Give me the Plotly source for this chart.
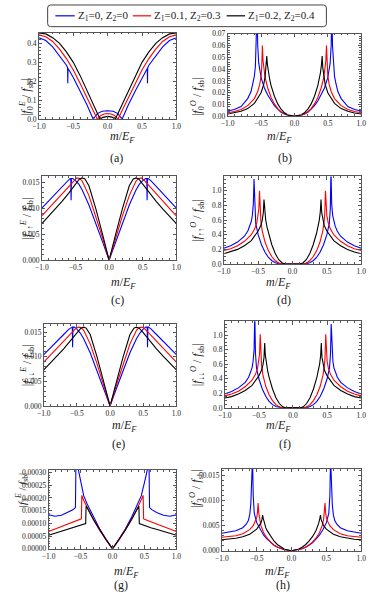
import plotly.graph_objects as go

W, H = 373, 605

NAMES = ["Z<sub>1</sub>=0, Z<sub>2</sub>=0",
         "Z<sub>1</sub>=0.1, Z<sub>2</sub>=0.3",
         "Z<sub>1</sub>=0.2, Z<sub>2</sub>=0.4"]
COLORS = ["#0000ff", "#ff0000", "#000000"]

# ---- panel (a): |f0^E / f_sb|
XB_A = [-1.0, -0.9, -0.8, -0.7, -0.6, -0.583, -0.58, -0.577, -0.55, -0.5, -0.4, -0.3, -0.21, -0.15, -0.08, 0.0,
        0.08, 0.15, 0.21, 0.3, 0.4, 0.5, 0.55, 0.577, 0.58, 0.583, 0.6, 0.7, 0.8, 0.9, 1.0]
A_B = [0.43, 0.415, 0.382, 0.335, 0.285, 0.272, 0.19, 0.268, 0.252, 0.22, 0.148, 0.075, 0.0, 0.03, 0.042, 0.045,
       0.042, 0.03, 0.0, 0.075, 0.148, 0.22, 0.252, 0.268, 0.19, 0.272, 0.285, 0.335, 0.382, 0.415, 0.43]
XR_A = [-1.0, -0.9, -0.8, -0.7, -0.6, -0.5, -0.4, -0.3, -0.2, -0.15, -0.1, -0.05, 0.0,
        0.05, 0.1, 0.15, 0.2, 0.3, 0.4, 0.5, 0.6, 0.7, 0.8, 0.9, 1.0]
A_R = [0.445, 0.435, 0.41, 0.37, 0.32, 0.26, 0.188, 0.112, 0.038, 0.0, 0.02, 0.028, 0.03,
       0.028, 0.02, 0.0, 0.038, 0.112, 0.188, 0.26, 0.32, 0.37, 0.41, 0.435, 0.445]
XK_A = [-1.0, -0.9, -0.8, -0.7, -0.6, -0.5, -0.4, -0.3, -0.2, -0.11, -0.07, -0.03, 0.0,
        0.03, 0.07, 0.11, 0.2, 0.3, 0.4, 0.5, 0.6, 0.7, 0.8, 0.9, 1.0]
A_K = [0.455, 0.45, 0.43, 0.4, 0.355, 0.3, 0.23, 0.15, 0.07, 0.0, 0.01, 0.014, 0.015,
       0.014, 0.01, 0.0, 0.07, 0.15, 0.23, 0.3, 0.355, 0.4, 0.43, 0.45, 0.455]

# ---- peaked panels (b, d, f, h) share these m grids
XB_PK = [-1.0, -0.9, -0.8, -0.7, -0.65, -0.62, -0.6, -0.585, -0.57, -0.56, -0.55, -0.535, -0.5, -0.45, -0.4,
         -0.35, -0.3, -0.25, -0.2, -0.15, -0.1, 0.0,
         0.1, 0.15, 0.2, 0.25, 0.3, 0.35, 0.4, 0.45, 0.5, 0.535, 0.55, 0.56, 0.57, 0.585, 0.6, 0.62, 0.65,
         0.7, 0.8, 0.9, 1.0]
XR_PK = [-1.0, -0.9, -0.8, -0.7, -0.6, -0.55, -0.52, -0.5, -0.49, -0.48, -0.47, -0.46, -0.44, -0.4, -0.35,
         -0.3, -0.25, -0.2, -0.15, -0.1, 0.0,
         0.1, 0.15, 0.2, 0.25, 0.3, 0.35, 0.4, 0.44, 0.46, 0.47, 0.48, 0.49, 0.5, 0.52, 0.55, 0.6, 0.7,
         0.8, 0.9, 1.0]
XK_PK = [-1.0, -0.9, -0.8, -0.7, -0.6, -0.5, -0.46, -0.44, -0.425, -0.415, -0.405, -0.39, -0.37, -0.35,
         -0.3, -0.25, -0.2, -0.15, -0.1, 0.0,
         0.1, 0.15, 0.2, 0.25, 0.3, 0.35, 0.37, 0.39, 0.405, 0.415, 0.425, 0.44, 0.46, 0.5, 0.6, 0.7, 0.8,
         0.9, 1.0]

# (b) |f0^O / f_sb|
B_B = [0.0045, 0.0058, 0.0082, 0.015, 0.021, 0.028, 0.034, 0.042, 0.06, 0.09, 0.06, 0.045, 0.033, 0.024,
       0.018, 0.013, 0.009, 0.006, 0.0035, 0.002, 0.0009, 0.0,
       0.0009, 0.002, 0.0035, 0.006, 0.009, 0.013, 0.018, 0.024, 0.033, 0.045, 0.06, 0.09, 0.06, 0.042,
       0.034, 0.028, 0.021, 0.015, 0.0082, 0.0058, 0.0045]
B_R = [0.003, 0.004, 0.0058, 0.009, 0.015, 0.021, 0.027, 0.034, 0.042, 0.06, 0.047, 0.04, 0.033, 0.024,
       0.016, 0.0105, 0.0065, 0.0038, 0.002, 0.0009, 0.0,
       0.0009, 0.002, 0.0038, 0.0065, 0.0105, 0.016, 0.024, 0.033, 0.04, 0.047, 0.06, 0.042, 0.034, 0.027,
       0.021, 0.015, 0.009, 0.0058, 0.004, 0.003]
B_K = [0.002, 0.0028, 0.0042, 0.0065, 0.011, 0.02, 0.027, 0.033, 0.041, 0.051, 0.044, 0.037, 0.031, 0.026,
       0.017, 0.0105, 0.006, 0.003, 0.0013, 0.0,
       0.0013, 0.003, 0.006, 0.0105, 0.017, 0.026, 0.031, 0.037, 0.044, 0.051, 0.041, 0.033, 0.027, 0.02,
       0.011, 0.0065, 0.0042, 0.0028, 0.002]

# (d) |f_upup^O / f_sb|
D_B = [0.215, 0.25, 0.3, 0.38, 0.45, 0.52, 0.58, 0.66, 0.82, 1.16, 0.75, 0.55, 0.4, 0.26, 0.16, 0.09,
       0.045, 0.018, 0.004, 0.0, 0.0, 0.0,
       0.0, 0.0, 0.004, 0.018, 0.045, 0.09, 0.16, 0.26, 0.4, 0.55, 0.75, 1.3, 0.82, 0.66, 0.58, 0.52,
       0.45, 0.38, 0.3, 0.25, 0.215]
D_R = [0.185, 0.21, 0.25, 0.31, 0.4, 0.48, 0.56, 0.66, 0.75, 1.0, 0.7, 0.58, 0.45, 0.3, 0.18, 0.1, 0.045,
       0.013, 0.001, 0.0, 0.0,
       0.0, 0.001, 0.013, 0.045, 0.1, 0.18, 0.3, 0.45, 0.58, 0.7, 1.0, 0.75, 0.66, 0.56, 0.48, 0.4, 0.31,
       0.25, 0.21, 0.185]
D_K = [0.14, 0.165, 0.2, 0.25, 0.32, 0.45, 0.53, 0.6, 0.7, 0.88, 0.72, 0.6, 0.5, 0.42, 0.26, 0.14, 0.06,
       0.015, 0.0, 0.0,
       0.0, 0.015, 0.06, 0.14, 0.26, 0.42, 0.5, 0.6, 0.72, 0.88, 0.7, 0.6, 0.53, 0.45, 0.32, 0.25, 0.2,
       0.165, 0.14]

# (f) |f_dndn^O / f_sb|
F_B = [0.19, 0.225, 0.275, 0.35, 0.42, 0.49, 0.55, 0.64, 0.8, 1.3, 0.75, 0.55, 0.4, 0.26, 0.16, 0.09,
       0.045, 0.018, 0.004, 0.0, 0.0, 0.0,
       0.0, 0.0, 0.004, 0.018, 0.045, 0.09, 0.16, 0.26, 0.4, 0.55, 0.75, 1.15, 0.8, 0.64, 0.55, 0.49,
       0.42, 0.35, 0.275, 0.225, 0.19]
F_R = [0.165, 0.19, 0.23, 0.29, 0.38, 0.46, 0.54, 0.64, 0.74, 1.01, 0.7, 0.58, 0.45, 0.3, 0.18, 0.1,
       0.045, 0.013, 0.001, 0.0, 0.0,
       0.0, 0.001, 0.013, 0.045, 0.1, 0.18, 0.3, 0.45, 0.58, 0.7, 1.01, 0.74, 0.64, 0.54, 0.46, 0.38,
       0.29, 0.23, 0.19, 0.165]
F_K = [0.135, 0.155, 0.19, 0.24, 0.31, 0.44, 0.52, 0.59, 0.69, 0.89, 0.72, 0.6, 0.5, 0.42, 0.26, 0.14,
       0.06, 0.015, 0.0, 0.0,
       0.0, 0.015, 0.06, 0.14, 0.26, 0.42, 0.5, 0.6, 0.72, 0.89, 0.69, 0.59, 0.52, 0.44, 0.31, 0.24,
       0.19, 0.155, 0.135]

# (h) |f3^O / f_sb|
H_B = [0.0035, 0.0037, 0.004, 0.0046, 0.0053, 0.006, 0.0072, 0.0092, 0.013, 0.0185, 0.011, 0.0075,
       0.0056, 0.0042, 0.0031, 0.0023, 0.0016, 0.0011, 0.0007, 0.0004, 0.0002, 0.0,
       0.0002, 0.0004, 0.0007, 0.0011, 0.0016, 0.0023, 0.0031, 0.0042, 0.0056, 0.0075, 0.011, 0.0185,
       0.013, 0.0092, 0.0072, 0.006, 0.0053, 0.0046, 0.004, 0.0037, 0.0035]
H_R = [0.0027, 0.0028, 0.003, 0.0034, 0.0042, 0.005, 0.0058, 0.0066, 0.0075, 0.0095, 0.0075, 0.0062,
       0.005, 0.0036, 0.0025, 0.0017, 0.0011, 0.0007, 0.0004, 0.0002, 0.0,
       0.0002, 0.0004, 0.0007, 0.0011, 0.0017, 0.0025, 0.0036, 0.005, 0.0062, 0.0075, 0.0095, 0.0075,
       0.0066, 0.0058, 0.005, 0.0042, 0.0034, 0.003, 0.0028, 0.0027]
H_K = [0.0022, 0.0023, 0.0025, 0.0028, 0.0033, 0.0043, 0.005, 0.0055, 0.0062, 0.0071, 0.0064, 0.0055,
       0.0046, 0.004, 0.0028, 0.0019, 0.0012, 0.0007, 0.0003, 0.0,
       0.0003, 0.0007, 0.0012, 0.0019, 0.0028, 0.004, 0.0046, 0.0055, 0.0064, 0.0071, 0.0062, 0.0055,
       0.005, 0.0043, 0.0033, 0.0028, 0.0025, 0.0023, 0.0022]

# ---- V-shaped panels (c, e)
XB_V = [-1.0, -0.9, -0.8, -0.7, -0.62, -0.58, -0.57, -0.565, -0.56, -0.54, -0.5, -0.45, -0.4, -0.3,
        -0.2, -0.1, 0.0,
        0.1, 0.2, 0.3, 0.4, 0.45, 0.5, 0.54, 0.56, 0.565, 0.57, 0.58, 0.62, 0.7, 0.8, 0.9, 1.0]
XR_V = [-1.0, -0.9, -0.8, -0.7, -0.6, -0.52, -0.48, -0.44, -0.4, -0.3, -0.2, -0.1, 0.0,
        0.1, 0.2, 0.3, 0.4, 0.44, 0.48, 0.52, 0.6, 0.7, 0.8, 0.9, 1.0]
XK_V = [-1.0, -0.9, -0.8, -0.7, -0.6, -0.5, -0.44, -0.4, -0.36, -0.3, -0.2, -0.1, 0.0,
        0.1, 0.2, 0.3, 0.36, 0.4, 0.44, 0.5, 0.6, 0.7, 0.8, 0.9, 1.0]

C_B = [0.0100, 0.0114, 0.0128, 0.0142, 0.0153, 0.0157, 0.0157, 0.0115, 0.0157, 0.0157, 0.0153, 0.0146,
       0.0135, 0.0106, 0.0072, 0.0036, 0.0,
       0.0036, 0.0072, 0.0106, 0.0135, 0.0146, 0.0153, 0.0157, 0.0157, 0.0115, 0.0157, 0.0157, 0.0153,
       0.0142, 0.0128, 0.0114, 0.0100]
C_R = [0.0085, 0.0099, 0.0113, 0.0127, 0.0142, 0.0154, 0.0158, 0.0157, 0.0152, 0.0124, 0.0086, 0.0044, 0.0,
       0.0044, 0.0086, 0.0124, 0.0152, 0.0157, 0.0158, 0.0154, 0.0142, 0.0127, 0.0113, 0.0099, 0.0085]
C_K = [0.007, 0.0084, 0.0098, 0.0113, 0.0129, 0.0146, 0.0156, 0.0158, 0.0156, 0.0143, 0.01, 0.0051, 0.0,
       0.0051, 0.01, 0.0143, 0.0156, 0.0158, 0.0156, 0.0146, 0.0129, 0.0113, 0.0098, 0.0084, 0.007]

E_B = [0.0104, 0.0117, 0.0131, 0.0145, 0.0156, 0.016, 0.016, 0.0119, 0.016, 0.016, 0.0156, 0.0148,
       0.0137, 0.0108, 0.0073, 0.0037, 0.0,
       0.0037, 0.0073, 0.0108, 0.0137, 0.0148, 0.0156, 0.016, 0.016, 0.0119, 0.016, 0.016, 0.0156,
       0.0145, 0.0131, 0.0117, 0.0104]
E_R = [0.0089, 0.0103, 0.0117, 0.0131, 0.0146, 0.0157, 0.016, 0.0159, 0.0154, 0.0126, 0.0087, 0.0044, 0.0,
       0.0044, 0.0087, 0.0126, 0.0154, 0.0159, 0.016, 0.0157, 0.0146, 0.0131, 0.0117, 0.0103, 0.0089]
E_K = [0.0073, 0.0087, 0.0101, 0.0116, 0.0132, 0.0149, 0.0158, 0.016, 0.0158, 0.0145, 0.0101, 0.0051, 0.0,
       0.0051, 0.0101, 0.0145, 0.0158, 0.016, 0.0158, 0.0149, 0.0132, 0.0116, 0.0101, 0.0087, 0.0073]

# ---- panel (g): |f3^E / f_sb|
XB_G = [-1.0, -0.9, -0.8, -0.7, -0.62, -0.58, -0.572, -0.55, -0.52, -0.5, -0.45, -0.4, -0.3, -0.2, -0.1, 0.0,
        0.1, 0.2, 0.3, 0.4, 0.45, 0.5, 0.52, 0.55, 0.572, 0.58, 0.62, 0.7, 0.8, 0.9, 1.0]
G_B = [0.000134, 0.000128, 0.000132, 0.000142, 0.000153, 0.000162, 0.00034, 0.00033, 0.00029, 0.00026,
       0.000208, 0.000178, 0.000125, 0.000078, 0.000037, 0.0,
       0.000037, 0.000078, 0.000125, 0.000178, 0.000208, 0.00026, 0.00029, 0.00033, 0.00034, 0.000162,
       0.000153, 0.000142, 0.000132, 0.000128, 0.000134]
XR_G = [-1.0, -0.9, -0.8, -0.7, -0.6, -0.5, -0.487, -0.48, -0.45, -0.4, -0.3, -0.2, -0.1, 0.0,
        0.1, 0.2, 0.3, 0.4, 0.45, 0.48, 0.487, 0.5, 0.6, 0.7, 0.8, 0.9, 1.0]
G_R = [0.000068, 0.000078, 0.000087, 0.000096, 0.000106, 0.000116, 0.000118, 0.00021, 0.00019, 0.000165,
       0.000115, 0.000072, 0.000034, 0.0,
       0.000034, 0.000072, 0.000115, 0.000165, 0.00019, 0.00021, 0.000118, 0.000116, 0.000106, 0.000096,
       0.000087, 0.000078, 0.000068]
XK_G = [-1.0, -0.9, -0.8, -0.7, -0.6, -0.5, -0.42, -0.413, -0.4, -0.3, -0.2, -0.1, 0.0,
        0.1, 0.2, 0.3, 0.4, 0.413, 0.42, 0.5, 0.6, 0.7, 0.8, 0.9, 1.0]
G_K = [0.000053, 0.000061, 0.000069, 0.000076, 0.000083, 0.000091, 0.000099, 0.000168, 0.000163, 0.000116,
       0.000073, 0.000035, 0.0,
       0.000035, 0.000073, 0.000116, 0.000163, 0.000168, 0.000099, 0.000091, 0.000083, 0.000076, 0.000069,
       0.000061, 0.000053]

SERIF = "Liberation Serif"
F = "<i>f</i>"

# box = (left, right, top, bottom) in pixels
PANELS = [
    dict(xs=(XB_A, XR_A, XK_A), ys=(A_B, A_R, A_K), box=(33, 175, 29, 117), yr=[0, 0.457],
         dt=0.1, mdt=0.02, fmt=".1f", lab="(a)", xt=135, ly=156, ytx=10, yts=12,
         yt="|" + F + "<sub>0</sub><sup><i>E</i></sup> / " + F + "<sub>sb</sub>|"),
    dict(xs=(XB_PK, XR_PK, XK_PK), ys=(B_B, B_R, B_K), box=(228, 366, 30, 114), yr=[0, 0.0701],
         dt=0.01, mdt=0.002, fmt=".2f", lab="(b)", xt=135, ly=156, ytx=197, yts=12,
         yt="|" + F + "<sub>0</sub><sup><i>O</i></sup> / " + F + "<sub>sb</sub>|"),
    dict(xs=(XB_V, XR_V, XK_V), ys=(C_B, C_R, C_K), box=(36, 175, 175, 260), yr=[0, 0.0161],
         dt=0.005, mdt=0.001, fmt=".3f", lab="(c)", xt=283, ly=300, ytx=10, yts=12,
         yt="|" + F + "<sub>↑↑</sub><sup><i>E</i></sup> / " + F + "<sub>sb</sub>|"),
    dict(xs=(XB_PK, XR_PK, XK_PK), ys=(D_B, D_R, D_K), box=(224, 366, 175, 264), yr=[0, 1.195],
         dt=0.2, mdt=0.05, fmt=".1f", lab="(d)", xt=283, ly=300, ytx=197, yts=12,
         yt="|" + F + "<sub>↑↑</sub><sup><i>O</i></sup> / " + F + "<sub>sb</sub>|"),
    dict(xs=(XB_V, XR_V, XK_V), ys=(E_B, E_R, E_K), box=(38, 175, 325, 408), yr=[0, 0.0166],
         dt=0.005, mdt=0.001, fmt=".3f", lab="(e)", xt=428, ly=447, ytx=10, yts=12,
         yt="|" + F + "<sub>↓↓</sub><sup><i>E</i></sup> / " + F + "<sub>sb</sub>|"),
    dict(xs=(XB_PK, XR_PK, XK_PK), ys=(F_B, F_R, F_K), box=(225, 366, 322, 410), yr=[0, 1.19],
         dt=0.2, mdt=0.05, fmt=".1f", lab="(f)", xt=428, ly=447, ytx=197, yts=12,
         yt="|" + F + "<sub>↓↓</sub><sup><i>O</i></sup> / " + F + "<sub>sb</sub>|"),
    dict(xs=(XB_G, XR_G, XK_G), ys=(G_B, G_R, G_K), box=(43, 175, 473, 553), yr=[0, 0.00031],
         dt=0.00005, mdt=0.00001, fmt=".5f", lab="(g)", xt=577, ly=590, ytx=6, yts=11,
         yt="|" + F + "<sub>3</sub><sup><i>E</i></sup> / " + F + "<sub>sb</sub>|"),
    dict(xs=(XB_PK, XR_PK, XK_PK), ys=(H_B, H_R, H_K), box=(222, 366, 472, 555), yr=[0, 0.0163],
         dt=0.005, mdt=0.001, fmt=".3f", lab="(h)", xt=577, ly=590, ytx=196, yts=12,
         yt="|" + F + "<sub>3</sub><sup><i>O</i></sup> / " + F + "<sub>sb</sub>|"),
]

AX = dict(showline=True, linecolor="#555", linewidth=0.7, mirror="allticks", ticks="inside",
          ticklen=3.5, tickwidth=0.6, tickcolor="#555", showgrid=False, zeroline=False,
          tickfont=dict(family=SERIF, size=7.5, color="#222"), fixedrange=True)

fig = go.Figure()
annotations = []
for i, p in enumerate(PANELS):
    n = "" if i == 0 else str(i + 1)
    for j in range(3):
        fig.add_trace(go.Scatter(
            x=p["xs"][j], y=p["ys"][j], mode="lines", name=NAMES[j],
            line=dict(color=COLORS[j], width=1.1), showlegend=False,
            xaxis="x" + n, yaxis="y" + n, hoverinfo="skip"))
    l, r, t, b = p["box"]
    fig.update_layout({
        "xaxis" + n: dict(AX, domain=[l / W, r / W], anchor="y" + n, range=[-1, 1],
                          tick0=-1, dtick=0.5, tickformat=".1f",
                          minor=dict(ticks="inside", ticklen=2, tickwidth=0.5, tickcolor="#555",
                                     dtick=0.1, tick0=-1)),
        "yaxis" + n: dict(AX, domain=[1 - b / H, 1 - t / H], anchor="x" + n, range=p["yr"],
                          tick0=0, dtick=p["dt"], tickformat=p["fmt"],
                          minor=dict(ticks="inside", ticklen=2, tickwidth=0.5, tickcolor="#555",
                                     dtick=p["mdt"], tick0=0)),
    })
    cx = (l + r) / 2 / W
    annotations.append(dict(text="<i>m</i>/<i>E</i><sub><i>F</i></sub>", x=cx, y=1 - p["xt"] / H,
                            xref="paper", yref="paper", showarrow=False, yanchor="middle",
                            font=dict(family=SERIF, size=12, color="#222")))
    annotations.append(dict(text=p["lab"], x=cx, y=1 - p["ly"] / H, xref="paper", yref="paper",
                            showarrow=False, yanchor="middle",
                            font=dict(family=SERIF, size=12, color="#222")))
    annotations.append(dict(text=p["yt"], x=p["ytx"] / W, y=1 - (t + b) / 2 / H, xref="paper",
                            yref="paper", showarrow=False, textangle=-90,
                            font=dict(family=SERIF, size=p["yts"], color="#222")))

# legend drawn as a framed key at the top, like the original
LEG_BOX = (42, 330, 1, 23)
LEG_LINES = [(50, 70), (130, 149), (227, 246)]
LEG_Y = 12


def px(x):
    return x / W


def py(y):
    return 1 - y / H


x0, x1, y0, y1 = LEG_BOX
rx, ry = 3 / W, 3 / H
path = (f"M{px(x0) + rx},{py(y0)} L{px(x1) - rx},{py(y0)} Q{px(x1)},{py(y0)} {px(x1)},{py(y0) - ry} "
        f"L{px(x1)},{py(y1) + ry} Q{px(x1)},{py(y1)} {px(x1) - rx},{py(y1)} "
        f"L{px(x0) + rx},{py(y1)} Q{px(x0)},{py(y1)} {px(x0)},{py(y1) + ry} "
        f"L{px(x0)},{py(y0) - ry} Q{px(x0)},{py(y0)} {px(x0) + rx},{py(y0)} Z")
shapes = [dict(type="path", path=path, xref="paper", yref="paper",
               line=dict(color="#444", width=1), fillcolor="white")]
for j, (a, c) in enumerate(LEG_LINES):
    shapes.append(dict(type="line", xref="paper", yref="paper", x0=px(a), x1=px(c),
                       y0=py(LEG_Y), y1=py(LEG_Y), line=dict(color=COLORS[j], width=1.2)))
    annotations.append(dict(text=NAMES[j], x=px(c + 1), y=py(LEG_Y), xref="paper", yref="paper",
                            xanchor="left", yanchor="middle", showarrow=False,
                            font=dict(family=SERIF, size=11, color="#222")))

fig.update_layout(
    width=W, height=H, autosize=False,
    margin=dict(l=0, r=0, t=0, b=0),
    paper_bgcolor="white", plot_bgcolor="white",
    annotations=annotations, shapes=shapes,
    showlegend=False,
)

# the page is photographed at exactly the figure size, so drop the default body margin
fig.write_html("out.html", config={"displayModeBar": False},
               post_script="document.body.style.margin = '0';")
